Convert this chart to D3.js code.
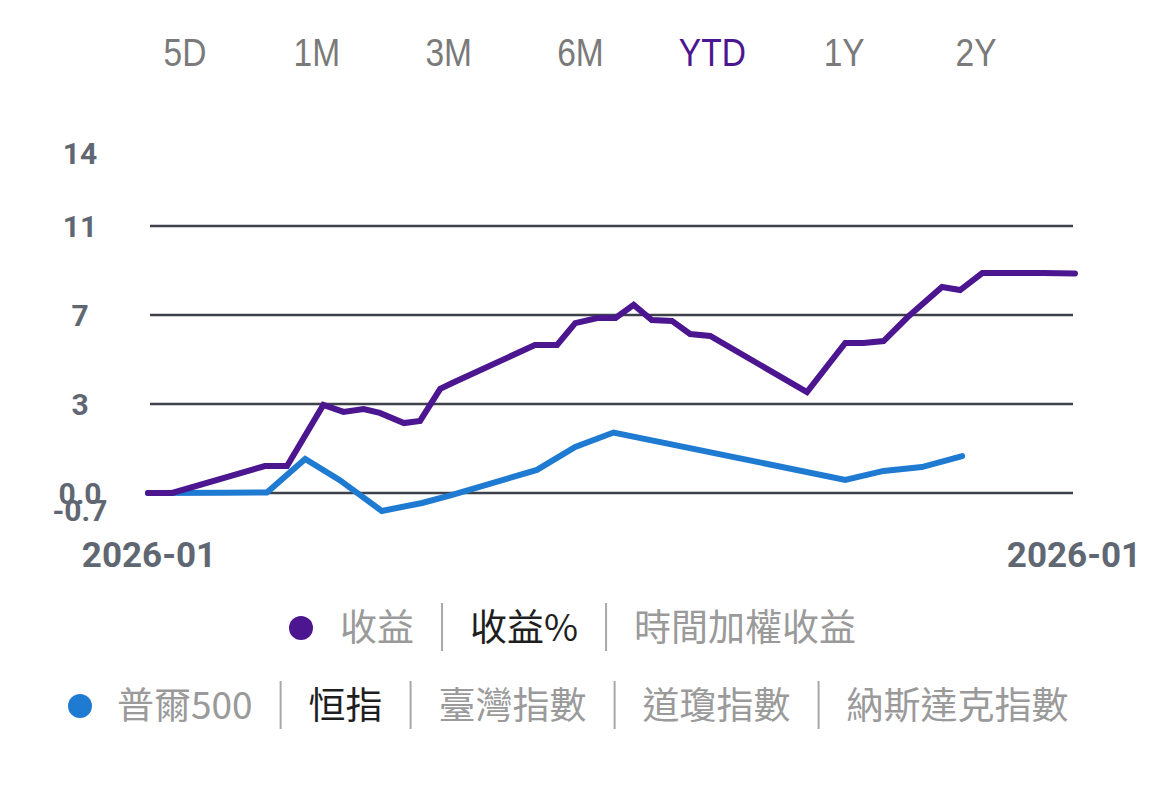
<!DOCTYPE html>
<html>
<head>
<meta charset="utf-8">
<script src="https://cdn.jsdelivr.net/npm/d3@7"></script>
<style>
  html, body { margin: 0; padding: 0; background: #fff; }
  svg { display: block; }
</style>
</head>
<body>
<svg id="chart"></svg>
<script>
// range tabs
const tabs = ["5D", "1M", "3M", "6M", "YTD", "1Y", "2Y"];
const activeTab = "YTD";

// x = trading step since start, y = return %
const portfolioX = [0, 1.2, 5.8, 6.9, 8.7, 9.7, 10.7, 11.5, 12.7, 13.5, 14.5, 15.1, 19.2, 20.3, 21.2, 22.3, 23.2, 24.1, 25.0, 26.0, 26.9, 27.9, 32.7, 34.6, 35.5, 36.5, 37.7, 39.4, 40.3, 41.4, 44.4, 46];
const portfolioY = [0, 0, 1.11, 1.11, 3.63, 3.34, 3.46, 3.30, 2.88, 2.97, 4.29, 4.53, 6.10, 6.10, 7.00, 7.21, 7.21, 7.75, 7.13, 7.09, 6.55, 6.47, 4.16, 6.18, 6.18, 6.26, 7.25, 8.49, 8.36, 9.06, 9.06, 9.04];

const indexX = [0, 3.8, 5.9, 7.8, 9.5, 11.6, 13.6, 15.1, 19.3, 21.2, 23.1, 34.6, 36.5, 38.4, 40.4];
const indexY = [0, 0.01, 0.02, 1.40, 0.54, -0.74, -0.41, -0.08, 0.95, 1.90, 2.49, 0.54, 0.91, 1.07, 1.52];

const yMin = -0.7, yMax = 14;
const gridValues = [0, 11 / 3, 22 / 3, 11];
const xTickLabels = ["2026-01", "2026-01"];

const legendRow1 = [
  { text: "收益", active: false },
  { text: "收益%", active: true },
  { text: "時間加權收益", active: false }
];
const legendRow2 = [
  { text: "普爾500", active: false },
  { text: "恒指", active: true },
  { text: "臺灣指數", active: false },
  { text: "道瓊指數", active: false },
  { text: "納斯達克指數", active: false }
];

const W = 1170, H = 785;
const purple = "#4b1690";
const blue = "#1f7bd2";
const axisGrey = "#5f6772";

const svg = d3.select("#chart").attr("width", W).attr("height", H);

// tabs (tall, narrow look)
const tabX = d3.scalePoint().domain(tabs).range([185, 976]);
svg.append("g").selectAll("text")
  .data(tabs)
  .join("text")
  .attr("transform", d => `translate(${tabX(d)},66) scale(0.86,1)`)
  .attr("text-anchor", "middle")
  .attr("font-family", "'Liberation Sans', Roboto, sans-serif")
  .attr("font-size", 39)
  .attr("fill", d => d === activeTab ? purple : "#7a7a7a")
  .text(d => d);

// scales
const x = d3.scaleLinear().domain([0, 46]).range([148, 1075]);
const y = d3.scaleLinear().domain([0, 11]).range([493, 226]);

// grid
svg.append("g").selectAll("line")
  .data(gridValues)
  .join("line")
  .attr("x1", 150).attr("x2", 1073)
  .attr("y1", d => y(d)).attr("y2", d => y(d))
  .attr("stroke", "#3d424a")
  .attr("stroke-width", 2.5);

// y labels ("0.0" and "-0.7" overlap like the original app draws them)
const yLabels = [yMax, ...gridValues, yMin];
const fmt = d => d === 0 ? "0.0" : (d < 0 ? d.toFixed(1) : String(Math.floor(d)));
svg.append("g").selectAll("text")
  .data(yLabels)
  .join("text")
  .attr("x", 80)
  .attr("y", d => y(d) + 11)
  .attr("text-anchor", "middle")
  .attr("font-family", "Roboto, 'Liberation Sans', sans-serif")
  .attr("font-weight", "bold")
  .attr("font-size", 30)
  .attr("fill", axisGrey)
  .text(fmt);

// x labels
svg.append("g").selectAll("text")
  .data(xTickLabels)
  .join("text")
  .attr("x", (d, i) => i === 0 ? x(0) + 1 : x(46) - 1)
  .attr("y", 567)
  .attr("text-anchor", "middle")
  .attr("font-family", "Roboto, 'Liberation Sans', sans-serif")
  .attr("font-weight", "bold")
  .attr("font-size", 35)
  .attr("fill", axisGrey)
  .text(d => d);

// lines
const line = d3.line().x(d => x(d[0])).y(d => y(d[1]));
svg.append("path")
  .datum(d3.zip(indexX, indexY))
  .attr("fill", "none")
  .attr("stroke", blue)
  .attr("stroke-width", 6)
  .attr("stroke-linejoin", "miter")
  .attr("stroke-linecap", "round")
  .attr("d", line);
svg.append("path")
  .datum(d3.zip(portfolioX, portfolioY))
  .attr("fill", "none")
  .attr("stroke", purple)
  .attr("stroke-width", 6)
  .attr("stroke-linejoin", "miter")
  .attr("stroke-linecap", "round")
  .attr("d", line);

// legend rows
function legendRow(items, color, dotX, startX, cy, gaps) {
  const g = svg.append("g");
  g.append("circle").attr("cx", dotX).attr("cy", cy).attr("r", 12).attr("fill", color);
  let cur = startX;
  items.forEach((it, i) => {
    const t = g.append("text")
      .attr("x", cur)
      .attr("y", cy + 13)
      .attr("font-family", "'Noto Sans CJK TC', 'Noto Sans', sans-serif")
      .attr("font-size", 37)
      .attr("fill", it.active ? "#1f1f1f" : "#9a9a9a")
      .text(it.text);
    const w = t.node().getComputedTextLength();
    cur += w;
    if (i < items.length - 1) {
      const sx = cur + gaps;
      g.append("line")
        .attr("x1", sx).attr("x2", sx)
        .attr("y1", cy - 25).attr("y2", cy + 23)
        .attr("stroke", "#a8a8a8")
        .attr("stroke-width", 2);
      cur = sx + gaps;
    }
  });
}
legendRow(legendRow1, purple, 301, 340, 628, 28);
legendRow(legendRow2, blue, 80, 117, 706, 28);
</script>
</body>
</html>
